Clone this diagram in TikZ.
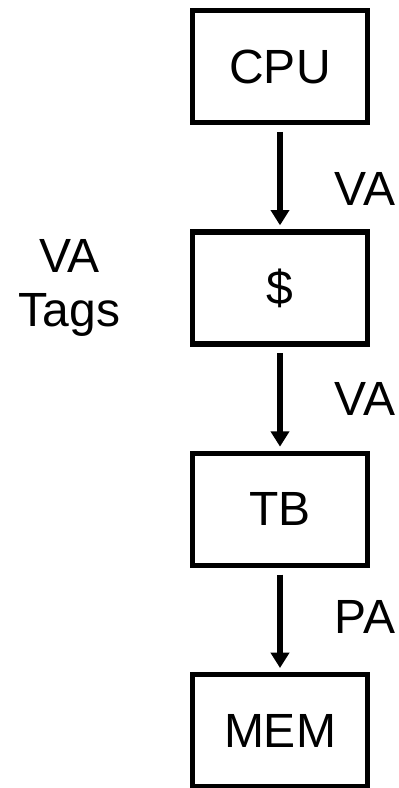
\documentclass[tikz,border=0pt]{standalone}
\usepackage{fontspec}
\setmainfont{Liberation Sans}
\usetikzlibrary{arrows.meta,calc,positioning}
\tikzset{
    unit/.style = {draw, rectangle, line width=4pt,
        minimum height=84pt,
        minimum width=131pt, align=center},
    link/.style = {draw, line width=4pt, -{Triangle[length=11.5pt,width=13.5pt]},
        shorten <=5pt, shorten >=3pt},
    addr/.style = {right=39pt, inner sep=0pt},
    side/.style = {align=center, inner sep=0pt}
}

\begin{document}
\begin{tikzpicture}[auto, node distance=166pt,
    font=\fontsize{36}{40.5}\selectfont]
    \useasboundingbox (0,0) rectangle (299.25pt,-591pt);
    \node [unit] (cpu) at (210pt,-50pt) {CPU};
    \node [unit, below of=cpu] (cache) {\$};
    \node [unit, below of=cache] (tb) {TB};
    \node [unit, below of=tb] (mem) {MEM};
    \node [side, left of=cache, node distance=158pt] (tags) {VA\\Tags};
    \draw [link] (cpu) -- node[addr, yshift=-9pt] (va1) {VA} (cache);
    \draw [link] (cache) -- node[addr] (va2) {VA} (tb);
    \draw [link] (tb) -- node[addr, yshift=2pt] (pa) {PA} (mem);
\end{tikzpicture}
\end{document}
